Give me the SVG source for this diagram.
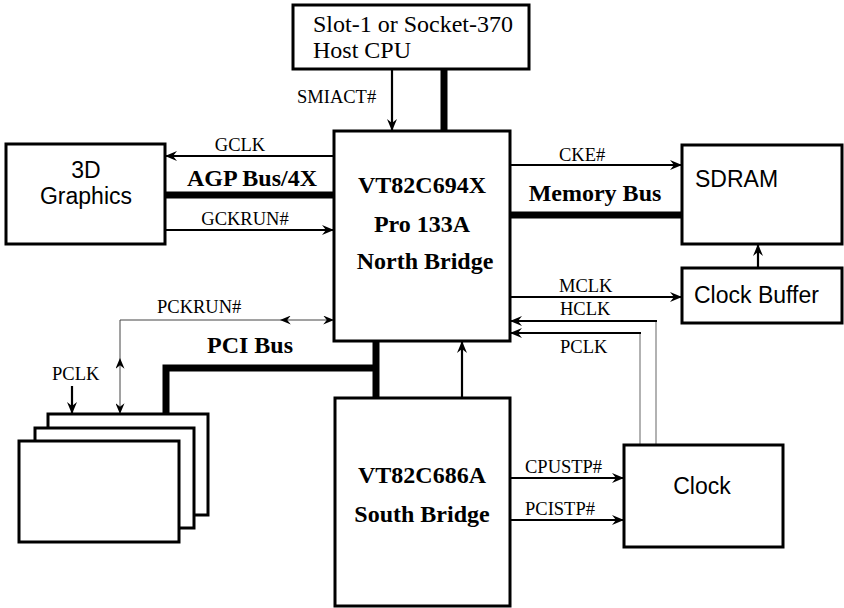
<svg xmlns="http://www.w3.org/2000/svg" width="844" height="608" viewBox="0 0 844 608">
<defs>
<marker id="ah" viewBox="0 0 12 10" refX="12" refY="5" markerWidth="12" markerHeight="10" markerUnits="userSpaceOnUse" orient="auto-start-reverse">
<path d="M0,0 L12,5 L0,10 L4,5 z" fill="#000"/>
</marker>
<marker id="ahs" viewBox="0 0 12 10" refX="12" refY="5" markerWidth="11" markerHeight="9" markerUnits="userSpaceOnUse" orient="auto-start-reverse">
<path d="M0,0 L12,5 L0,10 L4,5 z" fill="#000"/>
</marker>
<style>
.box{fill:#fff;stroke:#000;stroke-width:3}
.sig{fill:none;stroke:#000;stroke-width:2.2}
.bus{fill:none;stroke:#000;stroke-width:7}
.thin{fill:none;stroke:#444;stroke-width:1}
.gray{fill:none;stroke:#999;stroke-width:1.5}
.serif{font-family:"Liberation Serif","Times New Roman",serif;fill:#000}
.lbl{font-size:18.5px}
.big{font-size:24px;font-weight:bold}
.sans{font-family:"Liberation Sans",Arial,sans-serif;font-size:23px;fill:#000}
</style>
</defs>
<rect width="844" height="608" fill="#fff"/>

<g id="connectors">
<line class="bus" x1="444" y1="69" x2="444" y2="131"/>
<line class="sig" x1="392" y1="69" x2="392" y2="131" marker-end="url(#ah)"/>
<line class="sig" x1="334" y1="156" x2="165" y2="156" marker-end="url(#ah)"/>
<line class="bus" x1="165" y1="195" x2="334" y2="195"/>
<line class="sig" x1="165" y1="230" x2="334" y2="230" marker-end="url(#ah)"/>
<line class="sig" x1="510" y1="165" x2="682" y2="165" marker-end="url(#ah)"/>
<line class="bus" x1="510" y1="215" x2="682" y2="215"/>
<line class="sig" x1="510" y1="297" x2="682" y2="297" marker-end="url(#ah)"/>
<line class="sig" x1="758" y1="268" x2="758" y2="244" marker-end="url(#ah)"/>
<line class="gray" x1="656" y1="445" x2="656" y2="321"/>
<line class="gray" x1="640" y1="445" x2="640" y2="333"/>
<path class="sig" d="M657,321 H510" marker-end="url(#ah)"/>
<path class="sig" d="M641,333 H510" marker-end="url(#ah)"/>
<line class="sig" x1="462" y1="398" x2="462" y2="341" marker-end="url(#ah)"/>
<line class="sig" x1="511" y1="478" x2="624" y2="478" marker-end="url(#ah)"/>
<line class="sig" x1="511" y1="520" x2="624" y2="520" marker-end="url(#ah)"/>
<line class="bus" x1="376" y1="341" x2="376" y2="400"/>
<path class="bus" d="M166,414 V368 H379"/>
<path class="thin" d="M280,320 H120 V358"/>
<line class="thin" x1="280" y1="320" x2="334" y2="320" marker-start="url(#ahs)" marker-end="url(#ahs)"/>
<line class="thin" x1="120" y1="358" x2="120" y2="414" marker-start="url(#ahs)" marker-end="url(#ahs)"/>
<line class="sig" x1="72" y1="386" x2="72" y2="414" marker-end="url(#ah)"/>
</g>

<g id="cpu">
<rect class="box" x="293" y="5" width="236" height="64"/>
<text class="serif" x="313" y="32" font-size="24">Slot-1 or Socket-370</text>
<text class="serif" x="313" y="58" font-size="24">Host CPU</text>
</g>

<g id="north-bridge">
<rect class="box" x="334" y="131" width="176" height="210"/>
<text class="serif big" x="422" y="193" text-anchor="middle">VT82C694X</text>
<text class="serif big" x="422" y="232" text-anchor="middle">Pro 133A</text>
<text class="serif big" x="425" y="269" text-anchor="middle">North Bridge</text>
</g>

<g id="graphics">
<rect class="box" x="6" y="144" width="159" height="100"/>
<text class="sans" x="86" y="178" text-anchor="middle">3D</text>
<text class="sans" x="86" y="204" text-anchor="middle">Graphics</text>
</g>

<g id="sdram">
<rect class="box" x="682" y="145" width="160" height="99"/>
<text class="sans" x="695" y="187">SDRAM</text>
</g>

<g id="clock-buffer">
<rect class="box" x="682" y="268" width="160" height="55"/>
<text class="sans" x="694" y="303">Clock Buffer</text>
</g>

<g id="south-bridge">
<rect class="box" x="335" y="398" width="175" height="208"/>
<text class="serif big" x="422" y="483" text-anchor="middle">VT82C686A</text>
<text class="serif big" x="422" y="522" text-anchor="middle">South Bridge</text>
</g>

<g id="clock">
<rect class="box" x="624" y="445" width="159" height="102"/>
<text class="sans" x="702" y="494" text-anchor="middle">Clock</text>
</g>

<g id="pci-cards">
<rect class="box" x="48" y="414" width="160" height="101"/>
<rect class="box" x="35" y="428" width="159" height="100"/>
<rect class="box" x="19" y="441" width="160" height="101"/>
</g>

<g id="labels">
<text class="serif lbl" x="297" y="103">SMIACT#</text>
<text class="serif lbl" x="240" y="151" text-anchor="middle">GCLK</text>
<text class="serif big" x="252" y="186" text-anchor="middle">AGP Bus/4X</text>
<text class="serif lbl" x="245" y="225" text-anchor="middle">GCKRUN#</text>
<text class="serif lbl" x="559" y="161">CKE#</text>
<text class="serif big" x="595" y="201" text-anchor="middle">Memory Bus</text>
<text class="serif lbl" x="559" y="292">MCLK</text>
<text class="serif lbl" x="560" y="315">HCLK</text>
<text class="serif lbl" x="560" y="353">PCLK</text>
<text class="serif lbl" x="157" y="313">PCKRUN#</text>
<text class="serif big" x="250" y="353" text-anchor="middle">PCI Bus</text>
<text class="serif lbl" x="52" y="380">PCLK</text>
<text class="serif lbl" x="525" y="473">CPUSTP#</text>
<text class="serif lbl" x="525" y="515">PCISTP#</text>
</g>
</svg>
